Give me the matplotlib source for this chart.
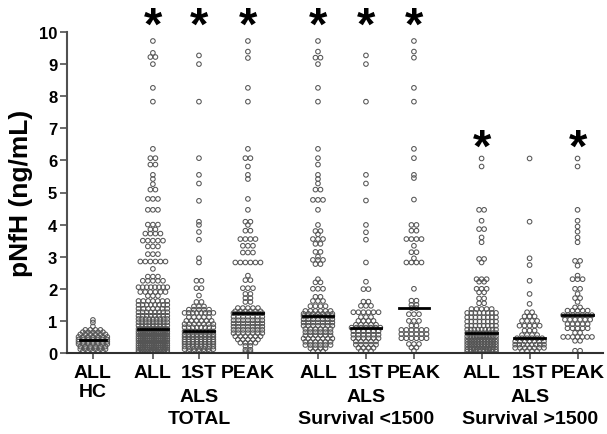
from matplotlib import pyplot as plt
import numpy as np

plt.rcParams['font.family'] = ['Liberation Sans', 'DejaVu Sans']
plt.rcParams['font.weight'] = 'bold'

# Valores: nivel (ng/mL) y cantidad de puntos en cada fila
hc_lv = [1.03, 0.95, 0.83, 0.72, 0.65, 0.58, 0.50, 0.42, 0.35, 0.28, 0.20, 0.12, 0.05]
hc_n = [1, 1, 1, 4, 5, 6, 7, 7, 7, 7, 6, 6, 5]

tot_all_lv = [9.72, 9.35, 9.22, 9.0, 8.26, 7.83, 6.36, 6.07, 5.87, 5.55, 5.42, 5.26,
              5.09, 4.80, 4.46, 4.0, 3.85, 3.72, 3.5, 3.32, 3.08, 2.85, 2.62, 2.38,
              2.25, 2.05, 1.9, 1.78, 1.62, 1.5, 1.38, 1.27, 1.16, 1.06, 0.96, 0.86,
              0.75, 0.67, 0.6, 0.52, 0.45, 0.38, 0.3, 0.23, 0.16, 0.09, 0.03]
tot_all_n = [1, 1, 2, 1, 1, 1, 1, 2, 2, 1, 1, 1,
             2, 3, 3, 3, 2, 4, 5, 3, 3, 6, 1, 3,
             5, 8, 6, 3, 7, 8, 7, 8, 8, 9, 9, 9,
             14, 14, 14, 14, 14, 14, 14, 14, 14, 12, 10]

tot_1st_lv = [9.27, 9.0, 7.83, 6.07, 5.55, 5.28, 4.74, 4.09, 3.99, 3.77, 3.53, 2.95,
              2.82, 2.25, 2.02, 1.79, 1.59, 1.45, 1.35, 1.25, 1.12, 1.0, 0.9, 0.8,
              0.67, 0.58, 0.5, 0.42, 0.35, 0.28, 0.2, 0.12, 0.05]
tot_1st_n = [1, 1, 1, 1, 1, 1, 1, 1, 1, 1, 1, 1,
             1, 2, 2, 1, 2, 3, 5, 8, 5, 6, 7, 8,
             9, 8, 8, 8, 8, 8, 8, 7, 5]

tot_peak_lv = [9.72, 9.39, 9.19, 8.26, 7.83, 6.36, 6.07, 5.81, 5.55, 5.42, 4.8, 4.46,
               4.09, 3.99, 3.81, 3.55, 3.34, 3.13, 2.82, 2.41, 2.27, 2.02, 1.84, 1.71,
               1.59, 1.4, 1.3, 1.24, 1.13, 1.02, 0.92, 0.82, 0.72, 0.62, 0.52, 0.42,
               0.32, 0.22, 0.1, 0.03]
tot_peak_n = [1, 1, 1, 1, 1, 1, 2, 1, 1, 1, 1, 1,
              2, 1, 2, 4, 3, 3, 6, 1, 2, 3, 2, 2,
              2, 5, 6, 7, 7, 7, 7, 7, 7, 7, 6, 5,
              4, 2, 2, 2]

s1_all_lv = [9.72, 9.39, 9.2, 9.0, 8.26, 7.83, 6.36, 6.07, 5.87, 5.55, 5.42, 5.28,
             5.09, 4.77, 4.46, 3.99, 3.8, 3.7, 3.55, 3.4, 3.15, 3.0, 2.9, 2.77,
             2.3, 2.2, 2.0, 1.75, 1.62, 1.46, 1.31, 1.22, 1.15, 1.05, 0.95, 0.85,
             0.75, 0.65, 0.55, 0.45, 0.35, 0.25, 0.15, 0.05]
s1_all_n = [1, 1, 2, 1, 1, 1, 1, 1, 1, 1, 1, 1,
            2, 3, 1, 1, 2, 1, 3, 2, 2, 1, 3, 2,
            1, 2, 3, 2, 3, 4, 6, 7, 8, 7, 7, 7,
            6, 6, 6, 7, 6, 6, 4, 3]

s1_1st_lv = [9.27, 9.0, 7.83, 5.55, 5.28, 4.75, 3.99, 3.76, 3.53, 2.82, 2.22, 1.99,
             1.6, 1.47, 1.27, 1.12, 1.0, 0.88, 0.79, 0.68, 0.57, 0.46, 0.36, 0.26,
             0.16, 0.06]
s1_1st_n = [1, 1, 1, 1, 1, 1, 1, 1, 1, 1, 1, 2,
            2, 3, 6, 3, 4, 5, 7, 6, 6, 6, 5, 5,
            4, 3]

s1_peak_lv = [9.72, 9.39, 9.2, 8.26, 7.83, 6.36, 6.07, 5.55, 5.45, 4.78, 3.99, 3.81,
              3.55, 3.34, 3.14, 2.95, 2.82, 2.0, 1.63, 1.5, 1.4, 1.21, 1.0, 0.85,
              0.72, 0.59, 0.46, 0.28, 0.17, 0.07]
s1_peak_n = [1, 1, 1, 1, 1, 1, 1, 1, 1, 1, 2, 2,
             4, 1, 2, 1, 4, 1, 2, 2, 2, 3, 3, 2,
             6, 6, 6, 3, 2, 1]

s2_all_lv = [6.06, 5.81, 4.46, 4.12, 3.86, 3.6, 3.45, 2.93, 2.82, 2.3, 2.22, 2.0,
             1.89, 1.7, 1.55, 1.37, 1.25, 1.11, 0.98, 0.85, 0.73, 0.62, 0.52, 0.43,
             0.35, 0.27, 0.19, 0.11, 0.04]
s2_all_n = [1, 1, 2, 1, 2, 1, 1, 2, 1, 3, 2, 3,
            2, 2, 2, 5, 8, 8, 8, 8, 9, 10, 10, 11,
            11, 11, 11, 10, 8]

s2_1st_lv = [6.06, 4.09, 2.95, 2.74, 2.25, 1.84, 1.53, 1.27, 1.14, 1.0, 0.85, 0.7,
             0.56, 0.46, 0.36, 0.26, 0.16, 0.06]
s2_1st_n = [1, 1, 1, 1, 1, 1, 1, 2, 3, 4, 5, 3,
            4, 6, 7, 8, 7, 4]

s2_peak_lv = [6.06, 5.81, 4.46, 4.12, 3.94, 3.78, 3.6, 3.45, 2.87, 2.72, 2.41, 2.3,
              2.0, 1.84, 1.71, 1.59, 1.42, 1.32, 1.18, 1.04, 0.9, 0.77, 0.63, 0.5,
              0.38, 0.07]
s2_peak_n = [1, 1, 1, 1, 1, 1, 1, 1, 2, 1, 1, 3,
             2, 1, 2, 1, 2, 5, 7, 6, 5, 5, 2, 7,
             2, 2]

grupos = [(hc_lv, hc_n), (tot_all_lv, tot_all_n), (tot_1st_lv, tot_1st_n),
          (tot_peak_lv, tot_peak_n), (s1_all_lv, s1_all_n), (s1_1st_lv, s1_1st_n),
          (s1_peak_lv, s1_peak_n), (s2_all_lv, s2_all_n), (s2_1st_lv, s2_1st_n),
          (s2_peak_lv, s2_peak_n)]

etiquetas = ['ALL', 'ALL', '1ST', 'PEAK', 'ALL', '1ST', 'PEAK', 'ALL', '1ST', 'PEAK']
# segunda y tercera linea bajo el eje: (grupo, texto)
linea2 = [(0, 'HC'), (2, 'ALS'), (5, 'ALS'), (8, 'ALS')]
linea3 = [(2, 'TOTAL'), (5, 'Survival <1500'), (8, 'Survival >1500')]

# asteriscos de significancia (grupo, altura)
star_grupo = [1, 2, 3, 4, 5, 6, 7, 9]
star_y = [10.32, 10.32, 10.32, 10.32, 10.32, 10.32, 6.52, 6.52]

posx = [0, 1.25, 2.21, 3.23, 4.69, 5.69, 6.69, 8.1, 9.1, 10.1]


def columna(niveles, cantidades, x0, ancho=0.6, paso=0.105):
    # puntos de cada fila repartidos alrededor del centro, como en Prism
    xs, ys = [], []
    for v, k in zip(niveles, cantidades):
        d = paso if k < 2 else min(paso, ancho / (k - 1))
        for i in range(k):
            xs.append(x0 + (i - (k - 1) / 2) * d)
            ys.append(v)
    return xs, ys


fig = plt.figure(figsize=(6.07, 4.35), dpi=100)
ax = fig.add_axes([67 / 607, 81 / 435, 536 / 607, 321 / 435])

for j, (lv, n) in enumerate(grupos):
    xs, ys = columna(lv, n, posx[j])
    ax.scatter(xs, ys, s=11, facecolors='none', edgecolors='#555555',
               linewidths=0.75, zorder=2)
    med = np.median(np.repeat(lv, n))
    w = 0.27 if j == 0 else 0.32
    ax.plot([posx[j] - w, posx[j] + w], [med, med], color='black', lw=2, zorder=3)

for g, y in zip(star_grupo, star_y):
    ax.text(posx[g], y, '*', fontsize=34, fontweight='bold', ha='center',
            va='center_baseline', clip_on=False)

ax.set_xlim(-0.54, 10.63)
ax.set_ylim(0, 10)
ax.set_yticks(range(0, 11))
ax.set_xticks(posx)
ax.set_xticklabels(etiquetas, fontsize=14, fontweight='bold')
ax.tick_params(axis='y', labelsize=12, length=5, width=1.2, color='#505050', pad=2)
ax.tick_params(axis='x', length=4, width=1.2, color='#505050', pad=4)
for t in ax.get_yticklabels():
    t.set_fontweight('bold')

for g, txt in linea2:
    off = -21.5 if g == 0 else -25
    ax.annotate(txt, xy=(posx[g], 0), xycoords=('data', 'axes fraction'),
                xytext=(0, off), textcoords='offset points', ha='center', va='top',
                fontsize=14, fontweight='bold')
for g, txt in linea3:
    ax.annotate(txt, xy=(posx[g], 0), xycoords=('data', 'axes fraction'),
                xytext=(0, -41), textcoords='offset points', ha='center', va='top',
                fontsize=14, fontweight='bold')

ax.spines['top'].set_visible(False)
ax.spines['right'].set_visible(False)
ax.spines['left'].set_color('#505050')
ax.spines['left'].set_linewidth(1.5)
ax.spines['bottom'].set_color('#303030')
ax.spines['bottom'].set_linewidth(1.5)

ax.set_ylabel('pNfH (ng/mL)', fontsize=19, fontweight='bold', labelpad=4)

fig.savefig('out.png', dpi=100)
